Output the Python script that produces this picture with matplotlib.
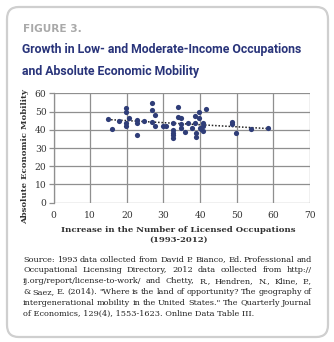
import numpy as np
import matplotlib
matplotlib.use("Agg")
import matplotlib.pyplot as plt
from matplotlib.patches import FancyBboxPatch

# Increase in number of licensed occupations (1993-2012) per state
licensed_increase = [
    14.8, 15.9, 17.9, 19.9, 19.9, 19.9, 19.9, 20.7, 22.7, 22.7, 22.9, 24.8,
    26.8, 26.8, 26.8, 27.7, 27.8, 29.8, 30.6, 32.5, 32.7, 32.7, 32.7, 32.7,
    33.9, 33.9, 34.8, 34.7, 34.7, 35.8, 36.8, 37.7, 38.6, 38.6, 38.8, 38.8,
    39.8, 39.8, 40.0, 40.2, 40.7, 40.7, 40.7, 41.6, 48.6, 48.6, 49.7, 53.8,
    58.6,
]
# Absolute economic mobility per state
abs_mobility = [
    45.7, 40.4, 44.6, 51.7, 49.5, 43.9, 42.2, 46.3, 45.3, 43.9, 37.3, 44.8,
    54.5, 50.8, 44.4, 48.1, 42.0, 42.2, 42.2, 43.5, 39.9, 38.0, 37.1, 35.6,
    52.7, 46.8, 46.3, 43.0, 41.1, 38.9, 43.9, 41.1, 47.5, 43.9, 38.0, 35.8,
    50.0, 46.6, 41.1, 40.2, 43.5, 42.2, 39.5, 51.4, 44.1, 43.0, 38.0, 40.2,
    41.1,
]
x_ticks = [0, 10, 20, 30, 40, 50, 60, 70]
y_ticks = [0, 10, 20, 30, 40, 50, 60]

title_lines = ["Growth in Low- and Moderate-Income Occupations",
               "and Absolute Economic Mobility"]
source_lines = [
    "Source: 1993 data collected from David P. Bianco, Ed. Professional and",
    "Occupational Licensing Directory, 2012 data collected from http://",
    "ij.org/report/license-to-work/ and Chetty, R., Hendren, N., Kline, P.,",
    "& Saez, E. (2014). \"Where is the land of opportunity? The geography of",
    "intergenerational mobility in the United States.\" The Quarterly Journal",
    "of Economics, 129(4), 1553-1623. Online Data Table III.",
]

W, H = 334, 342
fig = plt.figure(figsize=(W / 100, H / 100), dpi=100)
fig.patch.set_facecolor("white")


def fx(px):
    return px / W


def fy(py):
    return 1 - py / H


# rounded card border
card = FancyBboxPatch((fx(7), fy(337)), fx(321), 330 / H,
                      boxstyle="round,pad=0,rounding_size=0.035",
                      transform=fig.transFigure, facecolor="none",
                      edgecolor="#cfcfcf", linewidth=1.6, zorder=-5)
fig.patches.append(card)

navy = "#29347a"
text_dark = "#333333"

fig.text(fx(23), fy(29), "FIGURE 3.", fontsize=7.6, fontweight="bold",
         color="#a9a9a9", family="DejaVu Sans", va="center", ha="left")
title_objs = []
for txt, yy in zip(title_lines, [49, 71]):
    title_objs.append(fig.text(fx(22), fy(yy), txt, fontsize=12,
                               fontweight="bold", color=navy,
                               family="Roboto", fontstretch="condensed",
                               va="center", ha="left"))

ax = fig.add_axes([fx(53.5), fy(202.7), fx(310) - fx(53.5), fy(93.3) - fy(202.7)])
ax.set_xlim(0, 70)
ax.set_ylim(0, 60)
ax.set_xticks(x_ticks)
ax.set_yticks(y_ticks)
ax.grid(True, color="#8f8f8f", linewidth=0.9)
ax.set_axisbelow(True)
for s in ax.spines.values():
    s.set_visible(False)
ax.spines["left"].set_visible(True)
ax.spines["left"].set_color("#8f8f8f")
ax.spines["left"].set_linewidth(0.9)
ax.tick_params(axis="y", length=3.5, color="#8f8f8f", width=0.9, pad=1.5,
               labelsize=6.6, labelcolor=text_dark)
ax.tick_params(axis="x", length=0, pad=6, labelsize=6.6, labelcolor=text_dark)
for lab in ax.get_xticklabels() + ax.get_yticklabels():
    lab.set_family("DejaVu Serif")

ax.scatter(licensed_increase, abs_mobility, s=14, color="#2f3d78", zorder=3,
           linewidths=0)

# linear trend
coef = np.polyfit(licensed_increase, abs_mobility, 1)
xs = np.array([min(licensed_increase), max(licensed_increase)])
ax.plot(xs, np.polyval(coef, xs), linestyle=(0, (1, 1.2)), color="#222222",
        linewidth=1.1, zorder=2)

label_font = dict(family="DejaVu Serif", fontweight="bold", fontsize=6.1,
                  color=text_dark)
fig.text(fx(178), fy(230), "Increase in the Number of Licensed Occupations",
         ha="center", va="center", **label_font)
fig.text(fx(178), fy(240), "(1993-2012)", ha="center", va="center", **label_font)
fig.text(fx(25), fy(157), "Absolute Economic Mobility", rotation=90,
         ha="center", va="center", **label_font)

fig.canvas.draw()
renderer = fig.canvas.get_renderer()

# fit the headline to its column width
w0 = title_objs[0].get_window_extent(renderer).width
scale = 280.0 / w0
for t in title_objs:
    t.set_fontsize(12 * scale)

# justified source note
left_px, right_px = 23, 312
col_w = right_px - left_px
line_y = [259.5, 270.5, 281.2, 292, 302.7, 313.4]
src_font = dict(family="DejaVu Serif", fontsize=5.9, color="#222222",
                va="center", ha="left")

for i, line in enumerate(source_lines):
    if i == len(source_lines) - 1:
        fig.text(fx(left_px), fy(line_y[i]), line, **src_font)
        continue
    words = line.split(" ")
    objs = [fig.text(0, fy(line_y[i]), w, **src_font) for w in words]
    widths = [o.get_window_extent(renderer).width for o in objs]
    gap = max(1.2, (col_w - sum(widths)) / (len(words) - 1))
    x = left_px
    for o, w in zip(objs, widths):
        o.set_x(fx(x))
        x += w + gap

fig.savefig("out.png", dpi=100, facecolor="white")
